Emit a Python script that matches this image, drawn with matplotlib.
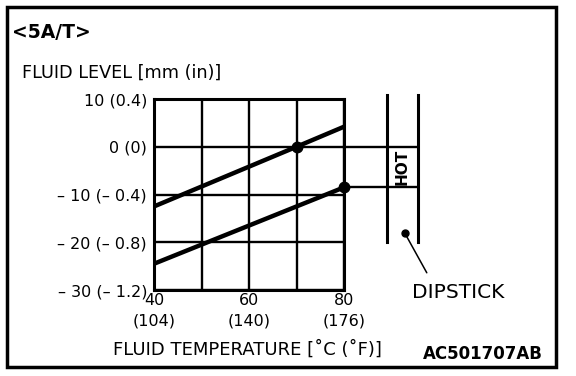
import matplotlib
matplotlib.use("Agg")
import matplotlib.pyplot as plt
from matplotlib.patches import Rectangle

plt.rcParams['font.family'] = ['DejaVu Sans']

# data
temp_c = [40, 70, 80]
upper_level = [-12.5, 0, 4.2]
lower_temp = [40, 80]
lower_level = [-24.5, -8.5]
hot_marks = [(70, 0), (80, -8.5)]

x_ticks = [40, 50, 60, 70, 80]
x_labels = ["40\n(104)", "", "60\n(140)", "", "80\n(176)"]
y_ticks = [10, 0, -10, -20, -30]
y_labels = ["10 (0.4)", "0 (0)", "\u2013 10 (\u2013 0.4)", "\u2013 20 (\u2013 0.8)", "\u2013 30 (\u2013 1.2)"]

# dipstick sketch (data coords of the chart)
stick_x = [89.0, 95.6]
stick_y = [10.8, -19.9]
hot_band = [0, -8.5]

fig = plt.figure(figsize=(5.76, 3.76), dpi=100)
ax = fig.add_axes([0.2674, 0.2287, 0.3299, 0.508])

ax.plot(temp_c, upper_level, color="black", lw=3.2, solid_capstyle="butt", zorder=3)
ax.plot(lower_temp, lower_level, color="black", lw=3.2, solid_capstyle="butt", zorder=3)
for x, y in hot_marks:
    ax.plot(x, y, "o", color="black", ms=7.5, zorder=4, clip_on=False)

ax.set_xlim(40, 80)
ax.set_ylim(-30, 10)
ax.set_xticks(x_ticks)
ax.set_xticklabels(x_labels, fontsize=11.5, linespacing=1.45, va="top")
ax.set_yticks(y_ticks)
ax.set_yticklabels(y_labels, fontsize=11.5)
ax.tick_params(length=0, pad=5)
ax.tick_params(axis="x", pad=2)
ax.grid(True, color="black", lw=1.7)
for s in ax.spines.values():
    s.set_linewidth(2.2)

# dipstick
for sx in stick_x:
    ax.plot([sx, sx], stick_y, color="black", lw=2.2, clip_on=False)
for hy in hot_band:
    ax.plot([80, stick_x[1]], [hy, hy], color="black", lw=1.7, clip_on=False)
ax.text(sum(stick_x) / 2, sum(hot_band) / 2, "HOT", rotation=90, ha="center", va="center",
        fontsize=11, fontweight="bold")
ax.annotate("", xy=(92.8, -18.1), xytext=(97.7, -26.9), annotation_clip=False,
            arrowprops=dict(arrowstyle="-", color="black", lw=1.1))
ax.plot(92.8, -18.1, "o", color="black", ms=5, clip_on=False)
ax.text(94.2, -30.6, "DIPSTICK", ha="left", va="center", fontsize=14.5)

fig.text(0.021, 0.913, "<5A/T>", fontsize=13.5, fontweight="bold", va="center")
fig.text(0.038, 0.806, "FLUID LEVEL [mm (in)]", fontsize=12.7, va="center")
fig.text(0.196, 0.069, "FLUID TEMPERATURE [\u02daC (\u02daF)]", fontsize=13, va="center")
fig.text(0.734, 0.058, "AC501707AB", fontsize=12, fontweight="bold", va="center")

fig.patches.append(Rectangle((0.0122, 0.024), 0.953, 0.957, transform=fig.transFigure,
                             fill=False, lw=2.5, edgecolor="black"))

fig.savefig("out.png", dpi=100)
